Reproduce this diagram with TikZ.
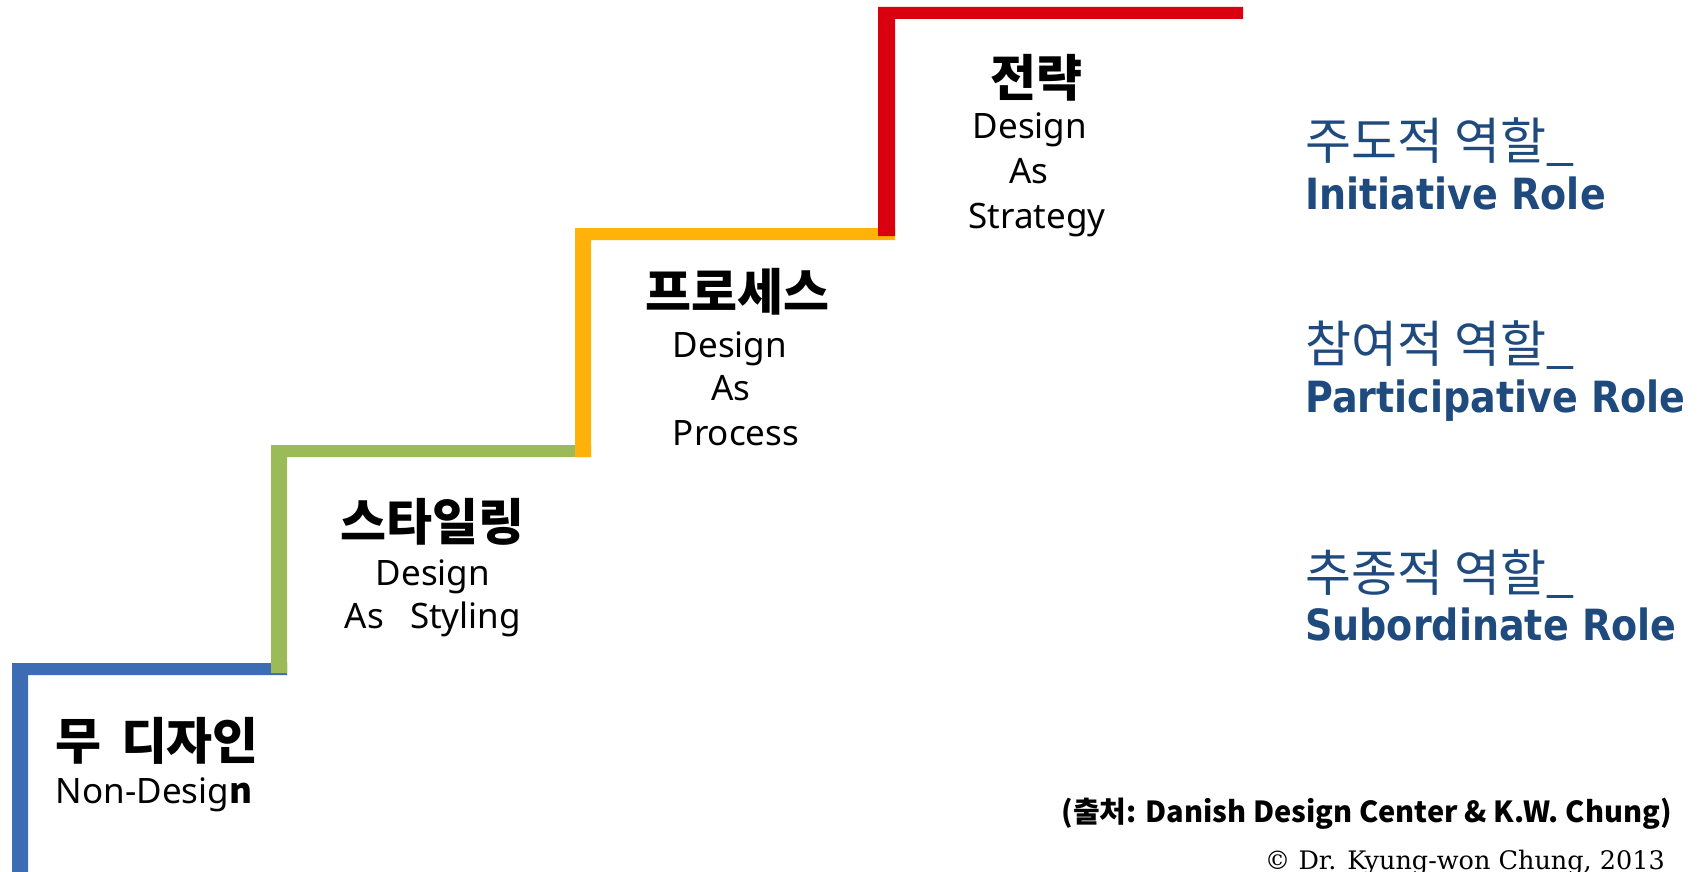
\documentclass[tikz,border=0pt]{standalone}
\usepackage{fontspec}
\setmainfont{Noto Sans}
\newfontfamily\kofont{Noto Sans CJK KR}
\newfontfamily\rolefont[FakeStretch=0.885]{DejaVu Sans}
\newfontfamily\copyfont{DejaVu Serif}

\definecolor{stepblue}{HTML}{3C6CB4}
\definecolor{stepgreen}{HTML}{9BBB59}
\definecolor{steporange}{HTML}{FFB30A}
\definecolor{stepred}{HTML}{D9000F}
\definecolor{roleblue}{HTML}{1F4A7E}

\tikzset{
  steptitle/.style={font=\kofont\bfseries\fontsize{50}{50}\selectfont, inner sep=0pt},
  stepsub/.style={font=\fontsize{35}{35}\selectfont, anchor=base, inner sep=0pt},
  rolekr/.style={font=\kofont\fontsize{50}{50}\selectfont, text=roleblue, anchor=west, inner sep=0pt},
  roleen/.style={font=\rolefont\bfseries\fontsize{43}{43}\selectfont, text=roleblue, anchor=base west, inner sep=0pt}
}

\begin{document}
\begin{tikzpicture}[x=1pt,y=-1pt]
\useasboundingbox (0,0) rectangle (1701,872);

% Stairs
\fill[stepblue] (12,663) rectangle (28,872) (12,663) rectangle (287,675);
\fill[stepgreen] (271,445) rectangle (287,673) (271,445) rectangle (591,457);
\fill[steporange] (575,228) rectangle (591,457) (575,228) rectangle (895,240);
\fill[stepred] (878,7) rectangle (895,236) (878,7) rectangle (1243,19);

% Step labels
\node[steptitle] (nondesign) at (157,741){무\hspace{20pt}디자인};
\node[stepsub] (nondesignEn) at (154,803){Non-Desig{\kofont\bfseries n}};

\node[steptitle] (styling) at (432,522){스타일링};
\node[stepsub] (stylingA) at (433,585){Design};
\node[stepsub] (stylingB) at (433,628){As\hspace{26pt}Styling};

\node[steptitle] (process) at (737,292){프로세스};
\node[stepsub] (processA) at (730,357){Design};
\node[stepsub] (processB) at (731,400){As};
\node[stepsub] (processC) at (736,445){Process};

\node[steptitle] (strategy) at (1036,78){전략};
\node[stepsub] (strategyA) at (1030,139){Design};
\node[stepsub] (strategyB) at (1029,183){As};
\node[stepsub] (strategyC) at (1037,228){Strategy};

% Roles
\node[rolekr] (initKr) at (1305,142){주도적 역할\_};
\node[roleen] (initEn) at (1305,210){Initiative Role};
\node[rolekr] (partKr) at (1305,345){참여적 역할\_};
\node[roleen] (partEn) at (1305,412){Participative Role};
\node[rolekr] (subKr) at (1305,574){추종적 역할\_};
\node[roleen] (subEn) at (1305,640){Subordinate Role};

% Source
\node[anchor=base east, inner sep=0pt] (source) at (1672,822){\kofont\bfseries\fontsize{29}{29}\selectfont (출처: Danish Design Center \& K.W. Chung)};
\node[anchor=base east, inner sep=0pt] (copy) at (1665,869){\copyfont\fontsize{25.5}{25.5}\selectfont © Dr. Kyung-won Chung, 2013};
\end{tikzpicture}
\end{document}
